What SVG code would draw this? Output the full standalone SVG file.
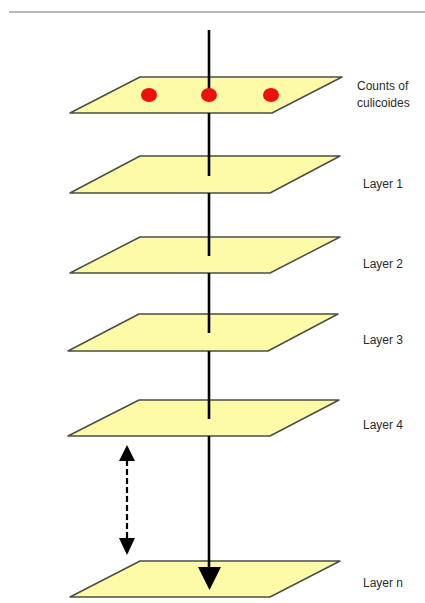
<svg xmlns="http://www.w3.org/2000/svg" width="425" height="603" viewBox="0 0 425 603">
<style>
.plane{fill:#fdfaa8;stroke:#4a4f45;stroke-width:1.5;stroke-linejoin:round}
.lbl{font-family:"Liberation Sans",Arial,sans-serif;font-size:12px;fill:#2b2b2b}
.axis{stroke:#000;stroke-width:2.6;fill:none}
.dot{fill:#ee0f0f}
</style>
<defs>
<marker id="ah" viewBox="0 0 16 16" refX="0" refY="8" markerWidth="16" markerHeight="16" markerUnits="userSpaceOnUse" orient="auto">
<path d="M0,0 L16,8 L0,16 Z" fill="#000"/>
</marker>
</defs>
<rect width="425" height="603" fill="#fff"/>
<line x1="9" y1="12" x2="425" y2="12" stroke="#777" stroke-width="1"/>
<g id="plane0">
<polygon class="plane" points="140,77 342,77 272,113 70,113"/>
</g>
<g id="plane1">
<polygon class="plane" points="140,156 340,156 270,193 70,193"/>
<text class="lbl" x="363" y="188">Layer 1</text>
</g>
<g id="plane2">
<polygon class="plane" points="140,237 340,237 270,273 70,273"/>
<text class="lbl" x="363" y="268">Layer 2</text>
</g>
<g id="plane3">
<polygon class="plane" points="139,314 338,314 268,351 68,351"/>
<text class="lbl" x="363" y="344">Layer 3</text>
</g>
<g id="plane4">
<polygon class="plane" points="139,400 339,400 270,436 68,436"/>
<text class="lbl" x="363" y="429">Layer 4</text>
</g>
<g id="planen">
<polygon class="plane" points="140,561 340,561 270,597 70,597"/>
<text class="lbl" x="363" y="587">Layer n</text>
</g>
<g id="connectors">
<line class="axis" x1="209" y1="30" x2="209" y2="95"/>
<line class="axis" x1="209" y1="113" x2="209" y2="176"/>
<line class="axis" x1="209" y1="193" x2="209" y2="256"/>
<line class="axis" x1="209" y1="273" x2="209" y2="333"/>
<line class="axis" x1="209" y1="351" x2="209" y2="419"/>
<line class="axis" x1="209" y1="436" x2="209" y2="568"/>
<polygon points="198,567 221,567 209.5,590" fill="#000"/>
<line x1="127" y1="460" x2="127" y2="539" stroke="#000" stroke-width="2.2" stroke-dasharray="6,3"/>
<polygon points="127,445 119,461 135,461" fill="#000"/>
<polygon points="127,555 119,538 135,538" fill="#000"/>
</g>
<g id="counts">
<ellipse class="dot" cx="149" cy="95" rx="8" ry="7"/>
<ellipse class="dot" cx="209" cy="95" rx="8" ry="7"/>
<ellipse class="dot" cx="271" cy="95" rx="8" ry="7"/>
<text class="lbl" x="357" y="90">Counts of</text>
<text class="lbl" x="357" y="107">culicoides</text>
</g>
</svg>
